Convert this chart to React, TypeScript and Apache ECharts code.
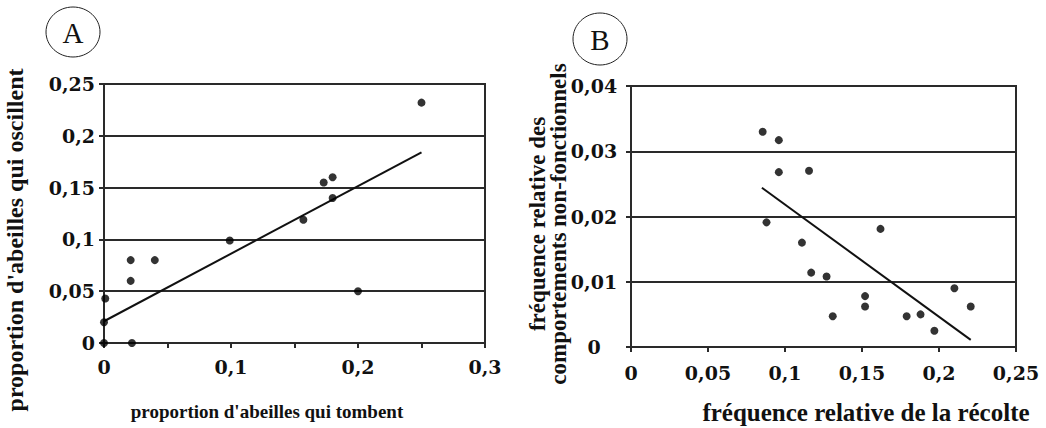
import React, { useEffect, useRef } from "react";
import * as echarts from "echarts";

// Panel A: proportion d'abeilles qui tombent (x) vs qui oscillent (y)
const aX = [0, 0, 0.001, 0.022, 0.021, 0.021, 0.04, 0.099, 0.157, 0.173, 0.18, 0.18, 0.2, 0.25];
const aY = [0, 0.02, 0.043, 0, 0.06, 0.08, 0.08, 0.099, 0.119, 0.155, 0.16, 0.14, 0.05, 0.232];
const aTrend = [
  [0, 0.021],
  [0.25, 0.184],
];

// Panel B: fréquence relative de la récolte (x) vs comportements non-fonctionnels (y)
const bX = [0.0855, 0.096, 0.096, 0.1156, 0.088, 0.162, 0.111, 0.117, 0.127, 0.131, 0.152, 0.152, 0.179, 0.188, 0.197, 0.21, 0.2206];
const bY = [0.033, 0.0317, 0.0268, 0.027, 0.0191, 0.0181, 0.016, 0.0114, 0.0108, 0.0047, 0.0078, 0.0062, 0.0047, 0.005, 0.0025, 0.009, 0.0062];
const bTrend = [
  [0.085, 0.0244],
  [0.2206, 0.0011],
];

const aXTitle = "proportion d'abeilles qui tombent";
const aYTitle = "proportion d'abeilles qui oscillent";
const bXTitle = "fréquence relative de la récolte";
const bYTitle = "fréquence relative des\ncomportements non-fonctionnels";

const LINE = "#2a2a2a";
const TICK_FONT = "DejaVu Serif";
const TITLE_FONT = "Liberation Serif";

const fmt = (v: number) => String(Number(v.toFixed(4))).replace(".", ",");

export default function App() {
  const ref = useRef<HTMLDivElement>(null);
  useEffect(() => {
    if (!ref.current) return;
    const chart = echarts.init(ref.current, null, { renderer: "svg" });
    const axisCommon = {
      type: "value" as const,
      axisLine: { show: true, lineStyle: { color: LINE, width: 2 } },
      axisTick: { show: true, inside: false, length: 5, lineStyle: { color: LINE, width: 2 } },
      splitLine: { show: false },
    };
    const labelStyle = {
      fontFamily: TICK_FONT,
      fontWeight: "bold" as const,
      fontSize: 19,
      color: "#111",
    };
    const hSplit = { show: true, lineStyle: { color: LINE, width: 2 } };
    const titleText = (x: number, y: number, text: string, size: number, rot = 0, lh = size) => ({
      type: "text",
      x,
      y,
      rotation: rot,
      style: {
        text,
        fontFamily: TITLE_FONT,
        fontWeight: "bold",
        fontSize: size,
        lineHeight: lh,
        fill: "#111",
        textAlign: "center",
        textVerticalAlign: "middle",
      },
    });
    chart.setOption({
      animation: false,
      backgroundColor: "#fff",
      grid: [
        { left: 104, top: 84, width: 381, height: 259, show: true, borderColor: LINE, borderWidth: 2 },
        { left: 631, top: 86, width: 385, height: 261, show: true, borderColor: LINE, borderWidth: 2 },
      ],
      xAxis: [
        {
          ...axisCommon,
          gridIndex: 0,
          min: 0,
          max: 0.3,
          interval: 0.05,
          axisLabel: {
            ...labelStyle,
            margin: 14,
            formatter: (v: number) => (Math.round(v * 100) % 10 === 0 ? fmt(v) : ""),
          },
        },
        {
          ...axisCommon,
          gridIndex: 1,
          min: 0,
          max: 0.25,
          interval: 0.05,
          axisLabel: { ...labelStyle, margin: 16, formatter: fmt },
        },
      ],
      yAxis: [
        {
          ...axisCommon,
          gridIndex: 0,
          min: 0,
          max: 0.25,
          interval: 0.05,
          splitLine: hSplit,
          axisLabel: { ...labelStyle, margin: 9, formatter: fmt },
        },
        {
          ...axisCommon,
          gridIndex: 1,
          min: 0,
          max: 0.04,
          interval: 0.01,
          splitLine: hSplit,
          axisLabel: { ...labelStyle, margin: 37, align: "center", formatter: fmt },
        },
      ],
      series: [
        {
          type: "scatter",
          xAxisIndex: 0,
          yAxisIndex: 0,
          symbol: "circle",
          symbolSize: 8,
          itemStyle: { color: "#000" },
          data: aX.map((x, i) => [x, aY[i]]),
          z: 5,
        },
        {
          type: "line",
          xAxisIndex: 0,
          yAxisIndex: 0,
          showSymbol: false,
          symbol: "none",
          lineStyle: { color: "#111", width: 2 },
          data: aTrend,
        },
        {
          type: "scatter",
          xAxisIndex: 1,
          yAxisIndex: 1,
          symbol: "circle",
          symbolSize: 8,
          itemStyle: { color: "#000" },
          data: bX.map((x, i) => [x, bY[i]]),
          z: 5,
        },
        {
          type: "line",
          xAxisIndex: 1,
          yAxisIndex: 1,
          showSymbol: false,
          symbol: "none",
          lineStyle: { color: "#111", width: 2 },
          data: bTrend,
        },
      ],
      graphic: [
        { type: "ellipse", shape: { cx: 73, cy: 32, rx: 27, ry: 25 }, style: { fill: "none", stroke: "#222", lineWidth: 1 } },
        { type: "text", x: 73, y: 33, style: { text: "A", fontFamily: TITLE_FONT, fontSize: 29, fill: "#111", textAlign: "center", textVerticalAlign: "middle" } },
        { type: "ellipse", shape: { cx: 600, cy: 39, rx: 27, ry: 26 }, style: { fill: "none", stroke: "#222", lineWidth: 1 } },
        { type: "text", x: 600, y: 40, style: { text: "B", fontFamily: TITLE_FONT, fontSize: 29, fill: "#111", textAlign: "center", textVerticalAlign: "middle" } },
        titleText(267, 411, aXTitle, 19),
        titleText(15, 240, aYTitle, 24, Math.PI / 2),
        titleText(866, 412, bXTitle, 25),
        titleText(548, 224, bYTitle, 23, Math.PI / 2, 21),
      ],
    });
    return () => chart.dispose();
  }, []);
  return <div ref={ref} style={{ position: "fixed", left: 0, top: 0, width: 1046, height: 428 }} />;
}
